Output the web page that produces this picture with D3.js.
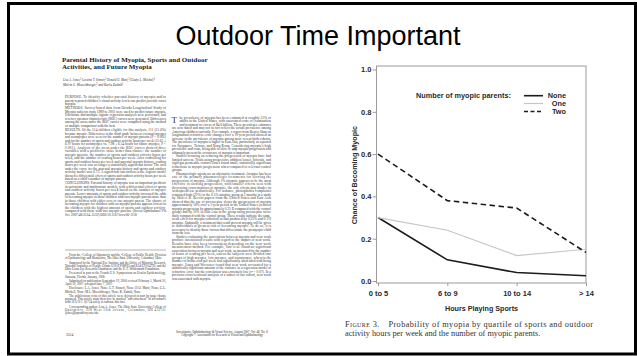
<!DOCTYPE html>
<html>
<head>
<meta charset="utf-8">
<script src="https://cdn.jsdelivr.net/npm/d3@7"></script>
<style>
  html, body { margin: 0; padding: 0; background: #fff; }
  svg { display: block; }
</style>
</head>
<body>
<svg id="slide" width="637" height="356"></svg>
<script>
// chart data
const categories = ['0 to 5', '6 to 9', '10 to 14', '> 14'];
const seriesNames = ['None', 'One', 'Two'];
const noneValues = [0.30, 0.10, 0.04, 0.025];
const oneValues = [0.30, 0.24, 0.12, 0.15];
const twoValues = [0.60, 0.38, 0.345, 0.135];
const yTicks = [0, 0.2, 0.4, 0.6, 0.8, 1.0];

// text of the scanned paper page on the left
const paperTitle = ['Parental History of Myopia, Sports and Outdoor', 'Activities, and Future Myopia'];
const paperAuthors = [
  'Lisa A. Jones,¹ Loraine T. Sinnott,¹ Donald O. Mutti,¹ Gladys L. Mitchell,¹',
  'Melvin L. Moeschberger,² and Karla Zadnik¹'
];
const abstractParas = [
  'PURPOSE. To identify whether parental history of myopia and/or parent-reported children\u2019s visual activity levels can predict juvenile-onset myopia.',
  'METHODS. Survey-based data from Orinda Longitudinal Study of Myopia subjects from 1989 to 2001 were used to predict future myopia. Univariate and multiple logistic regression analyses were performed, and receiver operator characteristic (ROC) curves were generated. Differences among the areas under the ROC curves were compared using the method of multiple comparison with the best.',
  'RESULTS. Of the 514 children eligible for this analysis, 111 (21.6%) became myopic. Differences in the third grade between eventual myopes and nonmyopes were seen for the number of myopic parents (P < 0.001) and for the number of sports and outdoor activity hours per week (11.65 \u00b1 6.97 hours for nonmyopes vs. 7.98 \u00b1 6.54 hours for future myopes, P < 0.001). Analysis of the areas under the ROC curves showed three variables with a predictive value better than chance: the number of myopic parents, the number of sports and outdoor activity hours per week, and the number of reading hours per week. After controlling for sports and outdoor hours per week and parental myopic history, reading hours per week was no longer a statistically significant factor. The area under the curve for the parental myopia history and sports and outdoor activity model was 0.73. A significant interaction in the logistic model showed a differential effect of sports and outdoor activity hours per week based on a child\u2019s number of myopic parents.',
  'CONCLUSIONS. Parental history of myopia was an important predictor in univariate and multivariate models, with a differential effect of sports and outdoor activity hours per week based on the number of myopic parents. Lower amounts of sports and outdoor activity increased the odds of becoming myopic in those children with two myopic parents more than in those children with either zero or one myopic parent. The chance of becoming myopic for children with no myopic parents appears lowest in the children with the highest amount of sports and outdoor activity, compared with those with two myopic parents. (Invest Ophthalmol Vis Sci. 2007;48:3524\u20133532) DOI:10.1167/iovs.06-1118'
];
const footnoteParas = [
  'From the \u00b9College of Optometry and the \u00b2College of Public Health, Division of Epidemiology and Biometrics, The Ohio State University, Columbus, Ohio.',
  'Supported by the National Eye Institute and the Office of Minority Research, National Institutes of Health, Grants U10-EY08893 and R24-EY014792; and the Ohio Lions Eye Research Foundation; and the E. F. Wildermuth Foundation.',
  'Presented in part at the Fourth U.S. Symposium on Ocular Epidemiology, Sarasota, Florida, January, 2006.',
  'Submitted for publication September 19, 2006; revised February 5, March 30, April 19, 2007; accepted June 7, 2007.',
  'Disclosure: L.A. Jones, None; L.T. Sinnott, None; D.O. Mutti, None; G.L. Mitchell, None; M.L. Moeschberger, None; K. Zadnik, None',
  'The publication costs of this article were defrayed in part by page charge payment. This article must therefore be marked \u201cadvertisement\u201d in accordance with 18 U.S.C. \u00a71734 solely to indicate this fact.',
  'Corresponding author: Lisa A. Jones, The Ohio State University College of Optometry, 338 West 10th Avenue, Columbus, OH 43210; ljones@optometry.osu.edu.'
];
const bodyParas = [
  'he prevalence of myopia has been estimated at roughly 25% of adults in the United States, with associated costs of examination and treatment in excess of $4.6 billion. These prevalence estimates are now dated and may not in fact reflect the actual prevalence among American children currently. For example, a report from Beaver Dam on longitudinal refractive error changes over a 10-year period showed an increase in the prevalence of myopia among more recent birth cohorts. The prevalence of myopia is higher in East Asia, particularly as reported for Singapore, Taiwan, and Hong Kong. Considering myopia\u2019s high prevalence and costs, being able to slow or stop myopia progression and ultimately prevent the occurrence of myopia is important.',
  'Studies focusing on reducing the progression of myopia have had limited success. Trials using progressive addition lenses, bifocals, and rigid gas permeable contact lenses found small, statistically significant reductions in myopic progression when compared to relevant control groups.',
  'Pharmacologic agents are an alternative treatment. Atropine has been one of the primary pharmacologic treatments for slowing the progression of myopia. Although 1% atropine appears to be the most effective in slowing progression, with smaller effects seen with decreasing concentrations of atropine, the side effects may hinder its widespread use pediatrically. For instance, photophobia complaints remained high (22%) in the 0.5% atropine group at 2 months in a study by Shih et al. Recent papers from the United States and East Asia showed that the use of pirenzepine slows the progression of myopia approximately 50% over a 1-year period in the United States (reduced myopia progression by approximately 0.25 D compared with the control group) and by 50% in East Asia in the group using pirenzepine twice daily compared with the control group. These results indicate the same, weak effect for myopia reduction as that produced by 0.25% and 0.1% atropine. Optimally, a treatment that could prevent myopia will be given to individuals at greatest risk of becoming myopic. To do so, it is necessary to identify those factors that differentiate the premyopic child from the rest.',
  'Studies evaluating the association between myopia and near work produce inconsistent results with regard to the impact of near work. Results have also been inconsistent depending on the near work measurement method. For example, Saw et al. found no significant association between myopia and near work, as measured by the number of hours of reading per week, unless the subjects were divided into groups of high myopes, low myopes, and nonmyopes, wherein the number of books read per week was significantly associated with being myopic. Jiang and Woessner found that near work accounted for a statistically significant amount of the variance in a regression model of refractive error, but the correlation was extremely low (r\u00b2 = 0.07). In a previous cross-sectional analysis of a subset of our cohort, near work was associated with myopia.'
];
const journalFooter = [
  'Investigative Ophthalmology & Visual Science, August 2007, Vol. 48, No. 8',
  'Copyright \u00a9 Association for Research in Vision and Ophthalmology'
];
const captionLines = ['Probability of myopia by quartile of sports and outdoor', 'activity hours per week and the number of myopic parents.'];

const SANS = "'Liberation Sans', Arial, sans-serif";
const SERIF = "'Liberation Serif', 'Times New Roman', serif";

const svg = d3.select('#slide');

// outer black frame of the slide
svg.append('rect')
  .attr('x', 8.5).attr('y', 3.5)
  .attr('width', 627).attr('height', 350.5)
  .attr('fill', 'none').attr('stroke', '#000').attr('stroke-width', 3);

// slide title
svg.append('text')
  .attr('x', 318).attr('y', 45)
  .attr('text-anchor', 'middle')
  .attr('font-family', SANS).attr('font-size', 27)
  .attr('fill', '#000')
  .text('Outdoor Time Important');

// ---------- the paper page ----------
const measurer = svg.append('text').attr('visibility', 'hidden');
function measure(str, o) {
  measurer.attr('font-family', o.family).attr('font-size', o.size).text(str);
  return measurer.node().getComputedTextLength();
}

// fill a list of frames with wrapped, justified lines
function flowText(paras, frames, o) {
  const g = svg.append('g').attr('font-family', o.family).attr('font-size', o.size).attr('fill', o.color);
  let fi = 0, yy = frames[0].y0, n = 0;
  const advance = () => {
    while (fi < frames.length && yy > frames[fi].y1) {
      fi++; n = 0;
      if (fi < frames.length) yy = frames[fi].y0;
    }
  };
  const indentFor = (firstLine, pi) => {
    const f = frames[fi];
    const par = firstLine && (pi > 0 || o.indentFirst) ? o.parIndent : 0;
    return par + (f.drop && n < f.drop.lines ? f.drop.dx : 0);
  };
  const put = (txt, dx, justify) => {
    const f = frames[fi];
    const t = g.append('text').attr('x', f.x + dx).attr('y', yy).text(txt);
    if (justify) t.attr('textLength', f.w - dx).attr('lengthAdjust', 'spacing');
    yy += o.lh; n++;
  };
  paras.forEach((p, pi) => {
    advance();
    if (fi >= frames.length) return;
    const words = p.split(/\s+/);
    let cur = '', firstLine = true;
    for (const w of words) {
      advance();
      if (fi >= frames.length) return;
      const cand = cur ? cur + ' ' + w : w;
      const dx = indentFor(firstLine, pi);
      if (cur && measure(cand, o) > frames[fi].w - dx) {
        put(cur, dx, true);
        firstLine = false;
        cur = w;
      } else {
        cur = cand;
      }
    }
    advance();
    if (cur && fi < frames.length) put(cur, indentFor(firstLine, pi), false);
    yy += o.pgap;
  });
}

svg.append('g')
  .attr('font-family', SERIF).attr('font-weight', 'bold').attr('font-size', 7).attr('fill', '#222')
  .selectAll('text').data(paperTitle).enter().append('text')
  .attr('x', 62).attr('y', (d, i) => 61.5 + i * 7)
  .text((d) => d);

svg.append('g')
  .attr('font-family', SERIF).attr('font-style', 'italic').attr('font-size', 4.4).attr('fill', '#333')
  .selectAll('text').data(paperAuthors).enter().append('text')
  .attr('x', 63).attr('y', (d, i) => 80.5 + i * 5)
  .attr('textLength', (d, i) => (i === 0 ? 92 : 60))
  .attr('lengthAdjust', 'spacingAndGlyphs')
  .text((d) => d);

const smallText = { family: SERIF, size: 3.4, lh: 3.5, color: '#333', parIndent: 0, pgap: 0.8 };
flowText(abstractParas, [
  { x: 65, y0: 98, y1: 242, w: 101 },
  { x: 172, y0: 94.5, y1: 106, w: 99 }
], smallText);

flowText(bodyParas, [
  { x: 172, y0: 118.5, y1: 325, w: 99, drop: { lines: 3, dx: 7.5 } }
], { ...smallText, parIndent: 4, pgap: 0 });

// drop cap of the first body paragraph
svg.append('text')
  .attr('x', 171.5).attr('y', 122.5)
  .attr('font-family', SERIF).attr('font-size', 9).attr('fill', '#333')
  .text('T');

svg.append('line')
  .attr('x1', 65).attr('x2', 166).attr('y1', 250).attr('y2', 250)
  .attr('stroke', '#666').attr('stroke-width', 0.5);

flowText(footnoteParas, [
  { x: 65, y0: 256, y1: 325, w: 101 }
], { family: SERIF, size: 3.1, lh: 3.3, color: '#333', parIndent: 4, indentFirst: true, pgap: 0.9 });

svg.append('g')
  .attr('font-family', SERIF).attr('font-size', 3).attr('fill', '#333')
  .attr('text-anchor', 'middle')
  .selectAll('text').data(journalFooter).enter().append('text')
  .attr('x', 222).attr('y', (d, i) => 332.5 + i * 3.5)
  .text((d) => d);

svg.append('text')
  .attr('x', 66).attr('y', 336)
  .attr('font-family', SERIF).attr('font-size', 3.6).attr('fill', '#333')
  .text('3524');

// ---------- the chart ----------
const xScale = d3.scalePoint().domain(categories).range([378, 586]);
const yScale = d3.scaleLinear().domain([0, 1]).range([281, 69.5]);
const axisGray = '#9a9a9a';
const labelColor = '#2a2a2a';

// plot box
svg.append('rect')
  .attr('x', 376.5).attr('y', 66)
  .attr('width', 209.5).attr('height', 217)
  .attr('fill', 'none').attr('stroke', axisGray).attr('stroke-width', 1);

const yAxis = svg.append('g')
  .attr('transform', 'translate(376.5,0)')
  .call(d3.axisLeft(yScale).tickValues(yTicks).tickFormat(d3.format('.1f')).tickSize(4).tickPadding(1));
const xAxis = svg.append('g')
  .attr('transform', 'translate(0,283)')
  .call(d3.axisBottom(xScale).tickSize(3).tickPadding(5));

[yAxis, xAxis].forEach((ax) => {
  ax.select('.domain').remove();
  ax.selectAll('.tick line').attr('stroke', axisGray);
  ax.selectAll('.tick text')
    .attr('fill', labelColor)
    .attr('font-family', SANS).attr('font-weight', 'bold').attr('font-size', 7.5);
});

// axis titles
svg.append('text')
  .attr('x', 481.5).attr('y', 311)
  .attr('text-anchor', 'middle')
  .attr('font-family', SANS).attr('font-weight', 'bold').attr('font-size', 7.2)
  .attr('fill', labelColor)
  .text('Hours Playing Sports');

svg.append('text')
  .attr('transform', 'translate(357,175) rotate(-90)')
  .attr('text-anchor', 'middle')
  .attr('font-family', SANS).attr('font-weight', 'bold').attr('font-size', 7.2)
  .attr('fill', labelColor)
  .text('Chance of Becoming Myopic');

// series lines
const seriesStyle = {
  None: { stroke: '#1c1c1c', width: 1.6, dash: null },
  One: { stroke: '#c6c6c6', width: 1.2, dash: null },
  Two: { stroke: '#1c1c1c', width: 1.6, dash: '5.5,3.5' }
};
const series = [
  { name: 'None', values: noneValues },
  { name: 'One', values: oneValues },
  { name: 'Two', values: twoValues }
];
const line = d3.line()
  .x((d, i) => xScale(categories[i]))
  .y((d) => yScale(d));

svg.append('g').selectAll('path')
  .data(series).enter().append('path')
  .attr('d', (d) => line(d.values))
  .attr('fill', 'none')
  .attr('stroke', (d) => seriesStyle[d.name].stroke)
  .attr('stroke-width', (d) => seriesStyle[d.name].width)
  .attr('stroke-dasharray', (d) => seriesStyle[d.name].dash);

// legend
svg.append('text')
  .attr('x', 416).attr('y', 98.3)
  .attr('font-family', SANS).attr('font-weight', 'bold').attr('font-size', 7.3)
  .attr('fill', labelColor)
  .text('Number of myopic parents:');

const legendRows = [95.7, 103.5, 111.5];
const legend = svg.append('g').selectAll('g')
  .data(seriesNames).enter().append('g')
  .attr('transform', (d, i) => `translate(0,${legendRows[i]})`);
legend.append('line')
  .attr('x1', 524).attr('x2', 543)
  .attr('stroke', (d) => seriesStyle[d].stroke)
  .attr('stroke-width', (d) => seriesStyle[d].width)
  .attr('stroke-dasharray', (d) => (seriesStyle[d].dash ? '4,2.5' : null));
legend.append('text')
  .attr('x', 566).attr('y', 2.6)
  .attr('text-anchor', 'end')
  .attr('font-family', SANS).attr('font-weight', 'bold').attr('font-size', 7.3)
  .attr('fill', labelColor)
  .text((d) => d);

// figure caption
const caption = svg.append('g')
  .attr('font-family', SERIF).attr('font-size', 8.3).attr('fill', '#333');
const cap1 = caption.append('text')
  .attr('x', 345).attr('y', 327)
  .attr('textLength', 248).attr('lengthAdjust', 'spacing');
cap1.append('tspan').attr('font-variant', 'small-caps').text('Figure 3.');
cap1.append('tspan').text('\u2003' + captionLines[0]);
caption.append('text')
  .attr('x', 345).attr('y', 335.5)
  .text(captionLines[1]);
</script>
</body>
</html>
